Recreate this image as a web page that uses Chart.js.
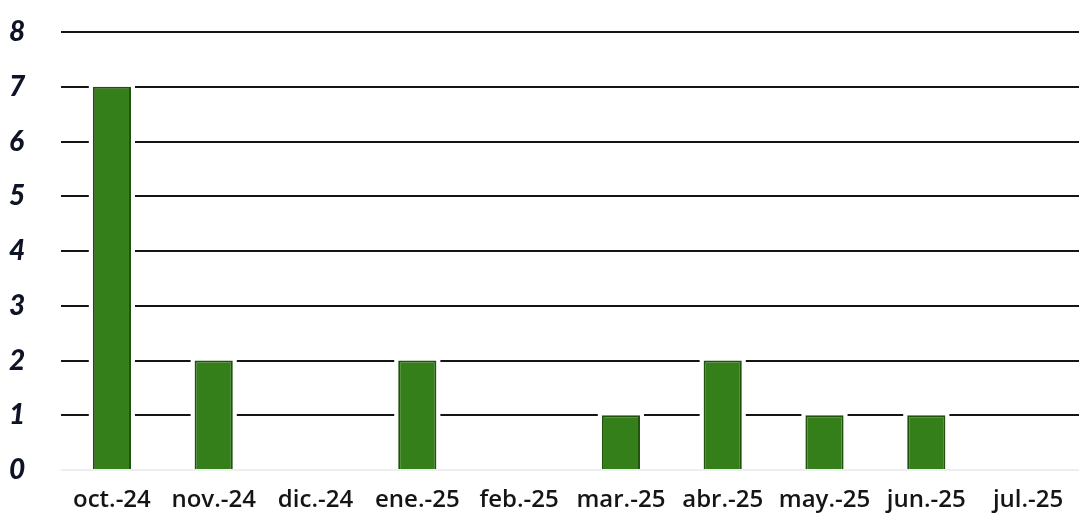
<!DOCTYPE html>
<html>
<head>
<meta charset="utf-8">
<script src="https://cdn.jsdelivr.net/npm/chart.js@4/dist/chart.umd.min.js"></script>
<style>
  html, body { margin: 0; padding: 0; background: #fff; }
  #wrap { width: 1079px; height: 527px; }
</style>
</head>
<body>
<div id="wrap"><canvas id="chart-1"></canvas></div>
<script>
const months = ['oct.-24', 'nov.-24', 'dic.-24', 'ene.-25', 'feb.-25', 'mar.-25', 'abr.-25', 'may.-25', 'jun.-25', 'jul.-25'];
const counts = [7, 2, 0, 2, 0, 1, 2, 1, 1, 0];
const yTicks = [0, 1, 2, 3, 4, 5, 6, 7, 8];

// white gap where the grid lines meet the bars
const barGap = {
    id: 'barGap',
    beforeDatasetsDraw(chart) {
        const ctx = chart.ctx;
        ctx.save();
        ctx.fillStyle = '#fff';
        chart.getDatasetMeta(0).data.forEach((bar, i) => {
            if (!counts[i]) return;
            const p = bar.getProps(['x', 'y', 'base', 'width'], true);
            ctx.fillRect(p.x - p.width / 2 - 4, p.y - 3, p.width + 8, p.base - p.y + 3);
        });
        ctx.restore();
    }
};

new Chart(document.querySelector('#chart-1').getContext('2d'), {
    type: 'bar',
    data: {
        labels: months,
        datasets: [{
            data: counts,
            backgroundColor: '#347f1a',
            borderColor: '#20520d',
            borderWidth: 2,
            barPercentage: 0.75,
            categoryPercentage: 0.5
        }]
    },
    options: {
        responsive: true,
        maintainAspectRatio: false,
        animation: false,
        layout: { padding: { top: 32, right: 0, left: 9, bottom: 0 } },
        plugins: { legend: { display: false }, tooltip: { enabled: false } },
        scales: {
            x: {
                grid: { display: false },
                border: { display: false },
                afterFit: s => { s.paddingLeft = 0; s.paddingRight = 0; s.height = 57; },
                ticks: {
                    color: '#151515',
                    padding: 8,
                    maxRotation: 0,
                    autoSkip: false,
                    font: { family: 'Open Sans', size: 24, weight: '600' }
                }
            },
            y: {
                min: 0,
                max: 8,
                afterBuildTicks: axis => { axis.ticks = yTicks.map(v => ({ value: v })); },
                afterFit: s => { s.width = 52; s.paddingTop = 0; s.paddingBottom = 0; },
                border: { display: false },
                grid: {
                    color: c => c.tick.value === 0 ? '#eeeeee' : '#151515',
                    lineWidth: 2,
                    drawTicks: false
                },
                ticks: {
                    color: '#0e1426',
                    padding: 6,
                    crossAlign: 'far',
                    font: { family: 'Lato', size: 28, weight: '900', style: 'italic' }
                }
            }
        }
    },
    plugins: [barGap]
});
</script>
</body>
</html>
